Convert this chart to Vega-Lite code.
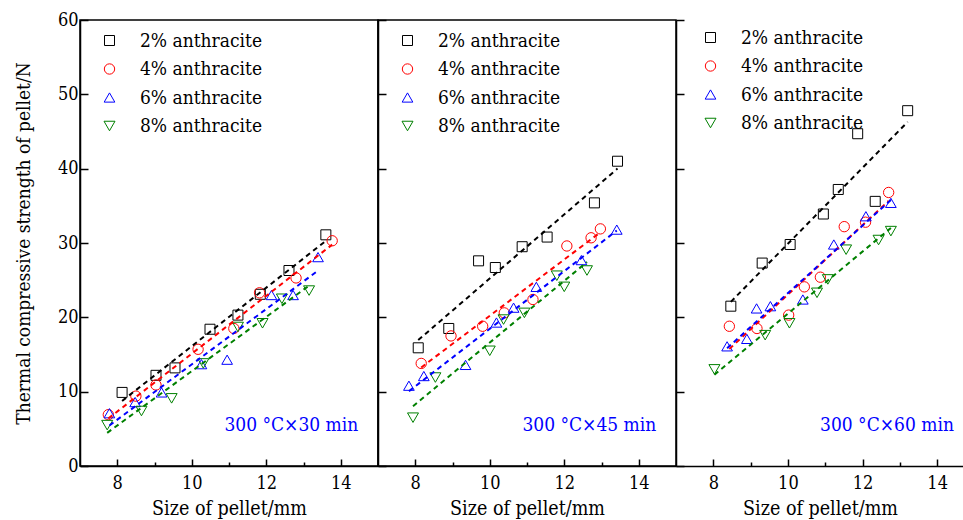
{
  "$schema": "https://vega.github.io/schema/vega-lite/v6.json",
  "padding": {"left": 13, "top": 10, "right": 0, "bottom": 0},
  "spacing": 0,
  "bounds": "flush",
  "config": {
    "font": "DejaVu Serif Condensed",
    "view": {"stroke": "black", "strokeWidth": 1.5},
    "concat": {"spacing": 0},
    "axis": {
      "labelFont": "DejaVu Serif Condensed", "labelFontSize": 18, "labelColor": "black",
      "titleFont": "DejaVu Serif Condensed", "titleFontSize": 19.5, "titleFontWeight": "normal", "titleColor": "black",
      "domainColor": "black", "domainWidth": 1.5, "tickColor": "black", "tickWidth": 1.5, "grid": false
    },
    "axisY": {"titleFontSize": 19},
    "legend": {
      "labelFont": "DejaVu Serif Condensed", "labelFontSize": 19, "labelColor": "black",
      "symbolStrokeWidth": 1, "rowPadding": 8.5, "labelOffset": 21, "padding": 0
    }
  },
  "datasets": {
    "pts": [
      {"panel": 1, "series": "2% anthracite", "size": 8.13, "strength": 9.9},
      {"panel": 1, "series": "2% anthracite", "size": 9.04, "strength": 12.2},
      {"panel": 1, "series": "2% anthracite", "size": 9.55, "strength": 13.2},
      {"panel": 1, "series": "2% anthracite", "size": 10.49, "strength": 18.4},
      {"panel": 1, "series": "2% anthracite", "size": 11.24, "strength": 20.3},
      {"panel": 1, "series": "2% anthracite", "size": 11.84, "strength": 23.1},
      {"panel": 1, "series": "2% anthracite", "size": 12.61, "strength": 26.3},
      {"panel": 1, "series": "2% anthracite", "size": 13.6, "strength": 31.1},
      {"panel": 1, "series": "4% anthracite", "size": 7.76, "strength": 6.9},
      {"panel": 1, "series": "4% anthracite", "size": 8.5, "strength": 9.4},
      {"panel": 1, "series": "4% anthracite", "size": 9.04, "strength": 10.9},
      {"panel": 1, "series": "4% anthracite", "size": 10.17, "strength": 15.7},
      {"panel": 1, "series": "4% anthracite", "size": 11.13, "strength": 18.5},
      {"panel": 1, "series": "4% anthracite", "size": 11.82, "strength": 23.3},
      {"panel": 1, "series": "4% anthracite", "size": 12.8, "strength": 25.3},
      {"panel": 1, "series": "4% anthracite", "size": 13.77, "strength": 30.3},
      {"panel": 1, "series": "6% anthracite", "size": 7.79, "strength": 7.1},
      {"panel": 1, "series": "6% anthracite", "size": 8.48, "strength": 8.6},
      {"panel": 1, "series": "6% anthracite", "size": 9.19, "strength": 9.9},
      {"panel": 1, "series": "6% anthracite", "size": 10.26, "strength": 13.7},
      {"panel": 1, "series": "6% anthracite", "size": 10.95, "strength": 14.3},
      {"panel": 1, "series": "6% anthracite", "size": 12.14, "strength": 23.0},
      {"panel": 1, "series": "6% anthracite", "size": 12.72, "strength": 23.0},
      {"panel": 1, "series": "6% anthracite", "size": 13.39, "strength": 28.1},
      {"panel": 1, "series": "8% anthracite", "size": 7.73, "strength": 5.5},
      {"panel": 1, "series": "8% anthracite", "size": 8.65, "strength": 7.4},
      {"panel": 1, "series": "8% anthracite", "size": 9.46, "strength": 9.1},
      {"panel": 1, "series": "8% anthracite", "size": 10.31, "strength": 13.8},
      {"panel": 1, "series": "8% anthracite", "size": 11.24, "strength": 18.7},
      {"panel": 1, "series": "8% anthracite", "size": 11.9, "strength": 19.2},
      {"panel": 1, "series": "8% anthracite", "size": 12.42, "strength": 22.5},
      {"panel": 1, "series": "8% anthracite", "size": 13.15, "strength": 23.6},
      {"panel": 2, "series": "2% anthracite", "size": 8.08, "strength": 15.9},
      {"panel": 2, "series": "2% anthracite", "size": 8.9, "strength": 18.5},
      {"panel": 2, "series": "2% anthracite", "size": 9.7, "strength": 27.6},
      {"panel": 2, "series": "2% anthracite", "size": 10.15, "strength": 26.7},
      {"panel": 2, "series": "2% anthracite", "size": 10.87, "strength": 29.5},
      {"panel": 2, "series": "2% anthracite", "size": 11.54, "strength": 30.8},
      {"panel": 2, "series": "2% anthracite", "size": 12.81, "strength": 35.4},
      {"panel": 2, "series": "2% anthracite", "size": 13.43, "strength": 41.0},
      {"panel": 2, "series": "4% anthracite", "size": 8.16, "strength": 13.8},
      {"panel": 2, "series": "4% anthracite", "size": 8.96, "strength": 17.5},
      {"panel": 2, "series": "4% anthracite", "size": 9.81, "strength": 18.8},
      {"panel": 2, "series": "4% anthracite", "size": 10.39, "strength": 20.6},
      {"panel": 2, "series": "4% anthracite", "size": 11.16, "strength": 22.4},
      {"panel": 2, "series": "4% anthracite", "size": 12.07, "strength": 29.6},
      {"panel": 2, "series": "4% anthracite", "size": 12.72, "strength": 30.7},
      {"panel": 2, "series": "4% anthracite", "size": 12.97, "strength": 31.9},
      {"panel": 2, "series": "6% anthracite", "size": 7.83, "strength": 10.8},
      {"panel": 2, "series": "6% anthracite", "size": 8.23, "strength": 12.1},
      {"panel": 2, "series": "6% anthracite", "size": 9.35, "strength": 13.6},
      {"panel": 2, "series": "6% anthracite", "size": 10.18, "strength": 19.3},
      {"panel": 2, "series": "6% anthracite", "size": 10.64, "strength": 21.3},
      {"panel": 2, "series": "6% anthracite", "size": 11.25, "strength": 24.1},
      {"panel": 2, "series": "6% anthracite", "size": 12.46, "strength": 27.7},
      {"panel": 2, "series": "6% anthracite", "size": 13.41, "strength": 31.8},
      {"panel": 2, "series": "8% anthracite", "size": 7.94, "strength": 6.5},
      {"panel": 2, "series": "8% anthracite", "size": 8.54, "strength": 11.9},
      {"panel": 2, "series": "8% anthracite", "size": 10.0, "strength": 15.5},
      {"panel": 2, "series": "8% anthracite", "size": 10.37, "strength": 19.7},
      {"panel": 2, "series": "8% anthracite", "size": 10.93, "strength": 20.6},
      {"panel": 2, "series": "8% anthracite", "size": 11.8, "strength": 25.6},
      {"panel": 2, "series": "8% anthracite", "size": 12.0, "strength": 24.1},
      {"panel": 2, "series": "8% anthracite", "size": 12.61, "strength": 26.3},
      {"panel": 3, "series": "2% anthracite", "size": 8.47, "strength": 21.5},
      {"panel": 3, "series": "2% anthracite", "size": 9.31, "strength": 27.3},
      {"panel": 3, "series": "2% anthracite", "size": 10.06, "strength": 29.8},
      {"panel": 3, "series": "2% anthracite", "size": 10.95, "strength": 33.9},
      {"panel": 3, "series": "2% anthracite", "size": 11.35, "strength": 37.2},
      {"panel": 3, "series": "2% anthracite", "size": 11.87, "strength": 44.7},
      {"panel": 3, "series": "2% anthracite", "size": 12.34, "strength": 35.6},
      {"panel": 3, "series": "2% anthracite", "size": 13.21, "strength": 47.8},
      {"panel": 3, "series": "4% anthracite", "size": 8.43, "strength": 18.8},
      {"panel": 3, "series": "4% anthracite", "size": 9.17, "strength": 18.5},
      {"panel": 3, "series": "4% anthracite", "size": 10.02, "strength": 20.3},
      {"panel": 3, "series": "4% anthracite", "size": 10.44, "strength": 24.1},
      {"panel": 3, "series": "4% anthracite", "size": 10.87, "strength": 25.4},
      {"panel": 3, "series": "4% anthracite", "size": 11.51, "strength": 32.2},
      {"panel": 3, "series": "4% anthracite", "size": 12.08, "strength": 32.8},
      {"panel": 3, "series": "4% anthracite", "size": 12.7, "strength": 36.8},
      {"panel": 3, "series": "6% anthracite", "size": 8.37, "strength": 16.1},
      {"panel": 3, "series": "6% anthracite", "size": 8.9, "strength": 17.1},
      {"panel": 3, "series": "6% anthracite", "size": 9.16, "strength": 21.2},
      {"panel": 3, "series": "6% anthracite", "size": 9.53, "strength": 21.5},
      {"panel": 3, "series": "6% anthracite", "size": 10.4, "strength": 22.4},
      {"panel": 3, "series": "6% anthracite", "size": 11.23, "strength": 29.8},
      {"panel": 3, "series": "6% anthracite", "size": 12.09, "strength": 33.6},
      {"panel": 3, "series": "6% anthracite", "size": 12.76, "strength": 35.4},
      {"panel": 3, "series": "8% anthracite", "size": 8.03, "strength": 13.0},
      {"panel": 3, "series": "8% anthracite", "size": 9.39, "strength": 17.6},
      {"panel": 3, "series": "8% anthracite", "size": 10.04, "strength": 19.2},
      {"panel": 3, "series": "8% anthracite", "size": 10.78, "strength": 23.3},
      {"panel": 3, "series": "8% anthracite", "size": 11.07, "strength": 25.1},
      {"panel": 3, "series": "8% anthracite", "size": 11.56, "strength": 29.1},
      {"panel": 3, "series": "8% anthracite", "size": 12.43, "strength": 30.4},
      {"panel": 3, "series": "8% anthracite", "size": 12.76, "strength": 31.6}
    ],
    "notes": [
      {"panel": 1, "note": "300 °C×30 min"},
      {"panel": 2, "note": "300 °C×45 min"},
      {"panel": 3, "note": "300 °C×60 min"}
    ]
  },
  "resolve": {
    "scale": {"color": "independent", "shape": "independent", "size": "independent", "x": "independent"},
    "legend": {"color": "independent", "shape": "independent", "size": "independent"}
  },
  "hconcat": [
    {
      "width": 298, "height": 446,
      "layer": [
        {
          "data": {"name": "pts"},
          "transform": [{"filter": "datum.panel === 1"}],
          "mark": {"type": "point", "filled": false, "strokeWidth": 1, "opacity": 1},
          "encoding": {
            "x": {"field": "size", "type": "quantitative", "scale": {"domain": [7, 15], "nice": false},
              "axis": {"title": "Size of pellet/mm", "values": [8, 9, 10, 11, 12, 13, 14],
                "tickSize": {"condition": {"test": "datum.value % 2 === 0", "value": -7}, "value": -4},
                "labelExpr": "datum.value % 2 === 0 ? datum.label : ''", "labelPadding": 15, "titlePadding": 7}},
            "y": {"field": "strength", "type": "quantitative", "scale": {"domain": [0, 60], "nice": false},
              "axis": {"title": "Thermal compressive strength of pellet/N", "values": [0, 5, 10, 15, 20, 25, 30, 35, 40, 45, 50, 55, 60],
                "tickSize": {"condition": {"test": "datum.value % 10 === 0", "value": -8}, "value": -4},
                "labelExpr": "datum.value % 10 === 0 ? datum.label : ''", "labelPadding": 10, "titlePadding": 24}},
            "color": {"field": "series", "type": "nominal",
              "scale": {"domain": ["2% anthracite", "4% anthracite", "6% anthracite", "8% anthracite"], "range": ["#000000", "#ff0000", "#0000ff", "#008000"]},
              "legend": {"title": null, "orient": "none", "legendX": 20, "legendY": 11}},
            "shape": {"field": "series", "type": "nominal",
              "scale": {"domain": ["2% anthracite", "4% anthracite", "6% anthracite", "8% anthracite"], "range": ["square", "circle", "triangle-up", "triangle-down"]},
              "legend": {"title": null, "orient": "none", "legendX": 20, "legendY": 11}},
            "size": {"field": "series", "type": "nominal",
              "scale": {"domain": ["2% anthracite", "4% anthracite", "6% anthracite", "8% anthracite"], "range": [100, 121, 160, 160]},
              "legend": {"title": null, "orient": "none", "legendX": 20, "legendY": 11}}
          }
        },
        {
          "data": {"name": "pts"},
          "transform": [{"filter": "datum.panel === 1"}, {"regression": "strength", "on": "size", "groupby": ["series"]}],
          "mark": {"type": "line", "strokeDash": [5, 4], "strokeWidth": 2},
          "encoding": {
            "x": {"field": "size", "type": "quantitative"},
            "y": {"field": "strength", "type": "quantitative"},
            "color": {"field": "series", "type": "nominal", "legend": null}
          }
        },
        {
          "data": {"name": "notes"},
          "transform": [{"filter": "datum.panel === 1"}],
          "mark": {"type": "text", "align": "right", "baseline": "middle", "fontSize": 19, "font": "DejaVu Serif Condensed", "color": "#0000ff"},
          "encoding": {"x": {"datum": 14.47}, "y": {"datum": 5.5}, "text": {"field": "note"}}
        }
      ]
    },
    {
      "width": 298, "height": 446,
      "layer": [
        {
          "data": {"name": "pts"},
          "transform": [{"filter": "datum.panel === 2"}],
          "mark": {"type": "point", "filled": false, "strokeWidth": 1, "opacity": 1},
          "encoding": {
            "x": {"field": "size", "type": "quantitative", "scale": {"domain": [7, 15], "nice": false},
              "axis": {"title": "Size of pellet/mm", "values": [8, 9, 10, 11, 12, 13, 14],
                "tickSize": {"condition": {"test": "datum.value % 2 === 0", "value": -7}, "value": -4},
                "labelExpr": "datum.value % 2 === 0 ? datum.label : ''", "labelPadding": 15, "titlePadding": 7}},
            "y": {"field": "strength", "type": "quantitative", "scale": {"domain": [0, 60], "nice": false},
              "axis": {"title": null, "labels": false, "values": [0, 5, 10, 15, 20, 25, 30, 35, 40, 45, 50, 55, 60],
                "tickSize": {"condition": {"test": "datum.value % 10 === 0", "value": -8}, "value": -4}}},
            "color": {"field": "series", "type": "nominal",
              "scale": {"domain": ["2% anthracite", "4% anthracite", "6% anthracite", "8% anthracite"], "range": ["#000000", "#ff0000", "#0000ff", "#008000"]},
              "legend": {"title": null, "orient": "none", "legendX": 20, "legendY": 11}},
            "shape": {"field": "series", "type": "nominal",
              "scale": {"domain": ["2% anthracite", "4% anthracite", "6% anthracite", "8% anthracite"], "range": ["square", "circle", "triangle-up", "triangle-down"]},
              "legend": {"title": null, "orient": "none", "legendX": 20, "legendY": 11}},
            "size": {"field": "series", "type": "nominal",
              "scale": {"domain": ["2% anthracite", "4% anthracite", "6% anthracite", "8% anthracite"], "range": [100, 121, 160, 160]},
              "legend": {"title": null, "orient": "none", "legendX": 20, "legendY": 11}}
          }
        },
        {
          "data": {"name": "pts"},
          "transform": [{"filter": "datum.panel === 2"}, {"regression": "strength", "on": "size", "groupby": ["series"]}],
          "mark": {"type": "line", "strokeDash": [5, 4], "strokeWidth": 2},
          "encoding": {
            "x": {"field": "size", "type": "quantitative"},
            "y": {"field": "strength", "type": "quantitative"},
            "color": {"field": "series", "type": "nominal", "legend": null}
          }
        },
        {
          "data": {"name": "notes"},
          "transform": [{"filter": "datum.panel === 2"}],
          "mark": {"type": "text", "align": "right", "baseline": "middle", "fontSize": 19, "font": "DejaVu Serif Condensed", "color": "#0000ff"},
          "encoding": {"x": {"datum": 14.47}, "y": {"datum": 5.5}, "text": {"field": "note"}}
        }
      ]
    },
    {
      "width": 288, "height": 446,
      "view": {"stroke": null},
      "layer": [
        {
          "data": {"name": "pts"},
          "transform": [{"filter": "datum.panel === 3"}],
          "mark": {"type": "point", "filled": false, "strokeWidth": 1, "opacity": 1},
          "encoding": {
            "x": {"field": "size", "type": "quantitative", "scale": {"domain": [7, 14.72], "nice": false},
              "axis": {"title": "Size of pellet/mm", "values": [8, 9, 10, 11, 12, 13, 14],
                "tickSize": {"condition": {"test": "datum.value % 2 === 0", "value": -7}, "value": -4},
                "labelExpr": "datum.value % 2 === 0 ? datum.label : ''", "labelPadding": 15, "titlePadding": 7}},
            "y": {"field": "strength", "type": "quantitative", "scale": {"domain": [0, 60], "nice": false},
              "axis": {"title": null, "labels": false, "values": [0, 5, 10, 15, 20, 25, 30, 35, 40, 45, 50, 55, 60],
                "tickSize": {"condition": {"test": "datum.value % 10 === 0", "value": -8}, "value": -4}}},
            "color": {"field": "series", "type": "nominal",
              "scale": {"domain": ["2% anthracite", "4% anthracite", "6% anthracite", "8% anthracite"], "range": ["#000000", "#ff0000", "#0000ff", "#008000"]},
              "legend": {"title": null, "orient": "none", "legendX": 25, "legendY": 8}},
            "shape": {"field": "series", "type": "nominal",
              "scale": {"domain": ["2% anthracite", "4% anthracite", "6% anthracite", "8% anthracite"], "range": ["square", "circle", "triangle-up", "triangle-down"]},
              "legend": {"title": null, "orient": "none", "legendX": 25, "legendY": 8}},
            "size": {"field": "series", "type": "nominal",
              "scale": {"domain": ["2% anthracite", "4% anthracite", "6% anthracite", "8% anthracite"], "range": [100, 121, 160, 160]},
              "legend": {"title": null, "orient": "none", "legendX": 25, "legendY": 8}}
          }
        },
        {
          "data": {"name": "pts"},
          "transform": [{"filter": "datum.panel === 3"}, {"regression": "strength", "on": "size", "groupby": ["series"]}],
          "mark": {"type": "line", "strokeDash": [5, 4], "strokeWidth": 2},
          "encoding": {
            "x": {"field": "size", "type": "quantitative"},
            "y": {"field": "strength", "type": "quantitative"},
            "color": {"field": "series", "type": "nominal", "legend": null}
          }
        },
        {
          "data": {"name": "notes"},
          "transform": [{"filter": "datum.panel === 3"}],
          "mark": {"type": "text", "align": "right", "baseline": "middle", "fontSize": 19, "font": "DejaVu Serif Condensed", "color": "#0000ff"},
          "encoding": {"x": {"datum": 14.45}, "y": {"datum": 5.5}, "text": {"field": "note"}}
        },
        {
          "mark": {"type": "rule", "color": "black", "strokeWidth": 1.5},
          "encoding": {"y": {"datum": 60}}
        }
      ]
    }
  ]
}
